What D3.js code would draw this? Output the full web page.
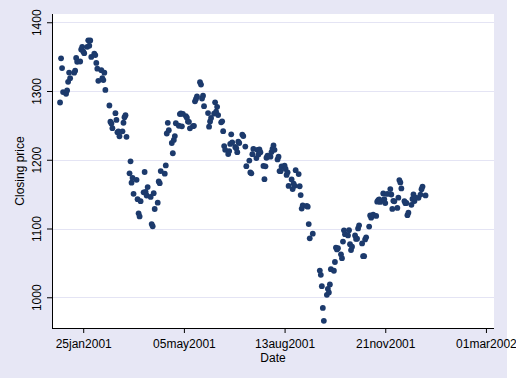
<!DOCTYPE html>
<html>
<head>
<meta charset="utf-8">
<script src="https://cdn.jsdelivr.net/npm/d3@7"></script>
<style>
  body { margin: 0; background: #fff; }
  text { font-family: "Liberation Sans", Arial, sans-serif; fill: #000; }
</style>
</head>
<body>
<div id="chart"></div>
<script>
// S&P 500 closing prices, 2001 trading days
const dates = [
  "2001-01-02","2001-01-03","2001-01-04","2001-01-05","2001-01-08","2001-01-09","2001-01-10","2001-01-11","2001-01-12","2001-01-16",
  "2001-01-17","2001-01-18","2001-01-19","2001-01-22","2001-01-23","2001-01-24","2001-01-25","2001-01-26","2001-01-29","2001-01-30",
  "2001-01-31","2001-02-01","2001-02-02","2001-02-05","2001-02-06","2001-02-07","2001-02-08","2001-02-09","2001-02-12","2001-02-13",
  "2001-02-14","2001-02-15","2001-02-16","2001-02-20","2001-02-21","2001-02-22","2001-02-23","2001-02-26","2001-02-27","2001-02-28",
  "2001-03-01","2001-03-02","2001-03-05","2001-03-06","2001-03-07","2001-03-08","2001-03-09","2001-03-12","2001-03-13","2001-03-14",
  "2001-03-15","2001-03-16","2001-03-19","2001-03-20","2001-03-21","2001-03-22","2001-03-23","2001-03-26","2001-03-27","2001-03-28",
  "2001-03-29","2001-03-30","2001-04-02","2001-04-03","2001-04-04","2001-04-05","2001-04-06","2001-04-09","2001-04-10","2001-04-11",
  "2001-04-12","2001-04-16","2001-04-17","2001-04-18","2001-04-19","2001-04-20","2001-04-23","2001-04-24","2001-04-25","2001-04-26",
  "2001-04-27","2001-04-30","2001-05-01","2001-05-02","2001-05-03","2001-05-04","2001-05-07","2001-05-08","2001-05-09","2001-05-10",
  "2001-05-11","2001-05-14","2001-05-15","2001-05-16","2001-05-17","2001-05-18","2001-05-21","2001-05-22","2001-05-23","2001-05-24",
  "2001-05-25","2001-05-29","2001-05-30","2001-05-31","2001-06-01","2001-06-04","2001-06-05","2001-06-06","2001-06-07","2001-06-08",
  "2001-06-11","2001-06-12","2001-06-13","2001-06-14","2001-06-15","2001-06-18","2001-06-19","2001-06-20","2001-06-21","2001-06-22",
  "2001-06-25","2001-06-26","2001-06-27","2001-06-28","2001-06-29","2001-07-02","2001-07-03","2001-07-05","2001-07-06","2001-07-09",
  "2001-07-10","2001-07-11","2001-07-12","2001-07-13","2001-07-16","2001-07-17","2001-07-18","2001-07-19","2001-07-20","2001-07-23",
  "2001-07-24","2001-07-25","2001-07-26","2001-07-27","2001-07-30","2001-07-31","2001-08-01","2001-08-02","2001-08-03","2001-08-06",
  "2001-08-07","2001-08-08","2001-08-09","2001-08-10","2001-08-13","2001-08-14","2001-08-15","2001-08-16","2001-08-17","2001-08-20",
  "2001-08-21","2001-08-22","2001-08-23","2001-08-24","2001-08-27","2001-08-28","2001-08-29","2001-08-30","2001-08-31","2001-09-04",
  "2001-09-05","2001-09-06","2001-09-07","2001-09-10","2001-09-17","2001-09-18","2001-09-19","2001-09-20","2001-09-21","2001-09-24",
  "2001-09-25","2001-09-26","2001-09-27","2001-09-28","2001-10-01","2001-10-02","2001-10-03","2001-10-04","2001-10-05","2001-10-08",
  "2001-10-09","2001-10-10","2001-10-11","2001-10-12","2001-10-15","2001-10-16","2001-10-17","2001-10-18","2001-10-19","2001-10-22",
  "2001-10-23","2001-10-24","2001-10-25","2001-10-26","2001-10-29","2001-10-30","2001-10-31","2001-11-01","2001-11-02","2001-11-05",
  "2001-11-06","2001-11-07","2001-11-08","2001-11-09","2001-11-12","2001-11-13","2001-11-14","2001-11-15","2001-11-16","2001-11-19",
  "2001-11-20","2001-11-21","2001-11-23","2001-11-26","2001-11-27","2001-11-28","2001-11-29","2001-11-30","2001-12-03","2001-12-04",
  "2001-12-05","2001-12-06","2001-12-07","2001-12-10","2001-12-11","2001-12-12","2001-12-13","2001-12-14","2001-12-17","2001-12-18",
  "2001-12-19","2001-12-20","2001-12-21","2001-12-24","2001-12-26","2001-12-27","2001-12-28","2001-12-31"
];
const closes = [
  1283.3,1347.6,1333.3,1298.4,1295.9,1300.8,1313.3,1326.8,1318.6,1326.7,
  1329.5,1348.0,1342.5,1342.9,1360.4,1364.3,1357.5,1355.0,1364.2,1373.7,
  1366.0,1373.5,1349.5,1354.3,1352.3,1340.9,1332.5,1314.8,1330.3,1318.8,
  1315.9,1326.6,1301.5,1278.9,1255.3,1252.8,1245.9,1267.7,1257.9,1239.9,
  1241.2,1234.2,1241.4,1253.8,1261.9,1264.7,1233.4,1180.2,1197.7,1166.7,
  1173.6,1150.5,1170.8,1142.6,1122.1,1117.6,1139.8,1152.7,1182.2,1153.3,
  1148.0,1160.3,1145.9,1106.5,1103.3,1151.4,1128.4,1137.6,1168.4,1165.9,
  1183.5,1179.7,1191.8,1238.2,1253.7,1243.0,1224.4,1209.5,1228.8,1234.5,
  1253.1,1249.5,1266.4,1267.4,1248.6,1266.6,1263.5,1261.2,1255.5,1255.2,
  1245.7,1248.9,1249.4,1285.0,1288.5,1292.0,1312.8,1309.4,1289.1,1293.2,
  1277.9,1267.9,1248.1,1255.8,1260.7,1267.1,1283.6,1270.0,1277.0,1265.0,
  1254.4,1255.9,1241.6,1219.9,1214.4,1208.4,1212.6,1223.1,1237.0,1225.4,
  1218.6,1216.8,1211.1,1226.2,1224.4,1236.7,1234.5,1219.2,1190.6,1198.8,
  1181.5,1180.2,1208.1,1215.7,1202.5,1214.4,1207.7,1215.0,1210.9,1191.0,
  1171.7,1190.5,1202.9,1205.8,1204.5,1211.2,1215.9,1220.8,1214.4,1200.5,
  1204.4,1183.5,1183.4,1190.2,1191.3,1186.7,1178.0,1181.7,1162.0,1171.4,
  1157.3,1165.3,1162.1,1184.9,1179.2,1161.5,1148.6,1129.0,1133.6,1132.9,
  1131.7,1106.4,1085.8,1092.5,1038.8,1032.7,1016.1,984.5,965.8,1003.5,
  1012.3,1007.0,1018.6,1040.9,1038.6,1051.3,1072.3,1069.6,1071.4,1062.4,
  1056.8,1081.0,1097.4,1091.7,1090.0,1097.5,1077.1,1068.6,1073.5,1089.9,
  1084.8,1085.2,1100.1,1104.6,1078.3,1059.8,1059.8,1084.1,1087.2,1102.8,
  1118.9,1115.8,1118.5,1120.3,1118.3,1139.1,1141.2,1142.2,1138.7,1151.1,
  1142.7,1137.0,1150.3,1157.4,1149.5,1128.5,1140.2,1139.5,1129.9,1144.8,
  1170.4,1167.1,1158.3,1139.9,1136.8,1137.1,1119.4,1123.1,1134.4,1142.9,
  1149.6,1139.9,1144.9,1144.7,1149.4,1157.1,1161.0,1148.1
];
const xTickLabels = ["2001-01-25","2001-05-05","2001-08-13","2001-11-21","2002-03-01"];
const yTicks = [1000, 1100, 1200, 1300, 1400];

const W = 516, H = 379;
const bgW = 507, bgH = 378;
const plot = {left: 52, right: 494, top: 14, bottom: 328};

const parseDate = d3.timeParse("%Y-%m-%d");
const fmt = d => d3.timeFormat("%d%b%Y")(d).toLowerCase();
const data = dates.map((d, i) => ({date: parseDate(d), close: closes[i]}));

const x = d3.scaleTime()
  .domain([parseDate("2000-12-25"), parseDate("2002-03-09")])
  .range([plot.left, plot.right]);
const y = d3.scaleLinear()
  .domain([955.3, 1412])
  .range([plot.bottom, plot.top]);

const svg = d3.select("#chart").append("svg")
  .attr("width", W)
  .attr("height", H);

svg.append("rect")
  .attr("width", bgW).attr("height", bgH)
  .attr("fill", "#e7e7f5");

svg.append("rect")
  .attr("x", plot.left).attr("y", plot.top)
  .attr("width", plot.right - plot.left).attr("height", plot.bottom - plot.top)
  .attr("fill", "#fff");

// gridlines
svg.append("g")
  .selectAll("line")
  .data(yTicks)
  .join("line")
  .attr("x1", plot.left).attr("x2", plot.right)
  .attr("y1", d => Math.round(y(d)) + 0.5).attr("y2", d => Math.round(y(d)) + 0.5)
  .attr("stroke", "#e4e4f4")
  .attr("stroke-width", 1.2);

// points
svg.append("g")
  .selectAll("circle")
  .data(data)
  .join("circle")
  .attr("cx", d => x(d.date))
  .attr("cy", d => y(d.close))
  .attr("r", 2.9)
  .attr("fill", "#1c3a6c");

// axes
const yAxis = d3.axisLeft(y).tickValues(yTicks).tickSize(5).tickFormat(d3.format("d"));
const gy = svg.append("g")
  .attr("transform", "translate(" + plot.left + ",0)")
  .call(yAxis);
gy.select(".domain").attr("stroke", "#000").attr("d", "M0.5," + plot.top + "V" + plot.bottom);
gy.selectAll(".tick line").attr("stroke", "#000");
gy.selectAll(".tick text")
  .attr("font-size", 12)
  .attr("x", 0).attr("y", 0).attr("dy", null)
  .attr("text-anchor", "middle")
  .attr("transform", "translate(-11,0) rotate(-90)");

const xAxis = d3.axisBottom(x)
  .tickValues(xTickLabels.map(parseDate))
  .tickSize(5)
  .tickFormat(fmt);
const gx = svg.append("g")
  .attr("transform", "translate(0," + plot.bottom + ")")
  .call(xAxis);
gx.select(".domain").attr("stroke", "#000").attr("d", "M" + plot.left + ",0.5H" + plot.right);
gx.selectAll(".tick line").attr("stroke", "#000");
gx.selectAll(".tick text")
  .attr("font-size", 12)
  .attr("y", 20).attr("dy", null);

svg.append("text")
  .attr("x", (plot.left + plot.right) / 2)
  .attr("y", 362)
  .attr("text-anchor", "middle")
  .attr("font-size", 12)
  .text("Date");

svg.append("text")
  .attr("transform", "translate(24," + (plot.top + plot.bottom) / 2 + ") rotate(-90)")
  .attr("text-anchor", "middle")
  .attr("font-size", 12)
  .text("Closing price");
</script>
</body>
</html>
